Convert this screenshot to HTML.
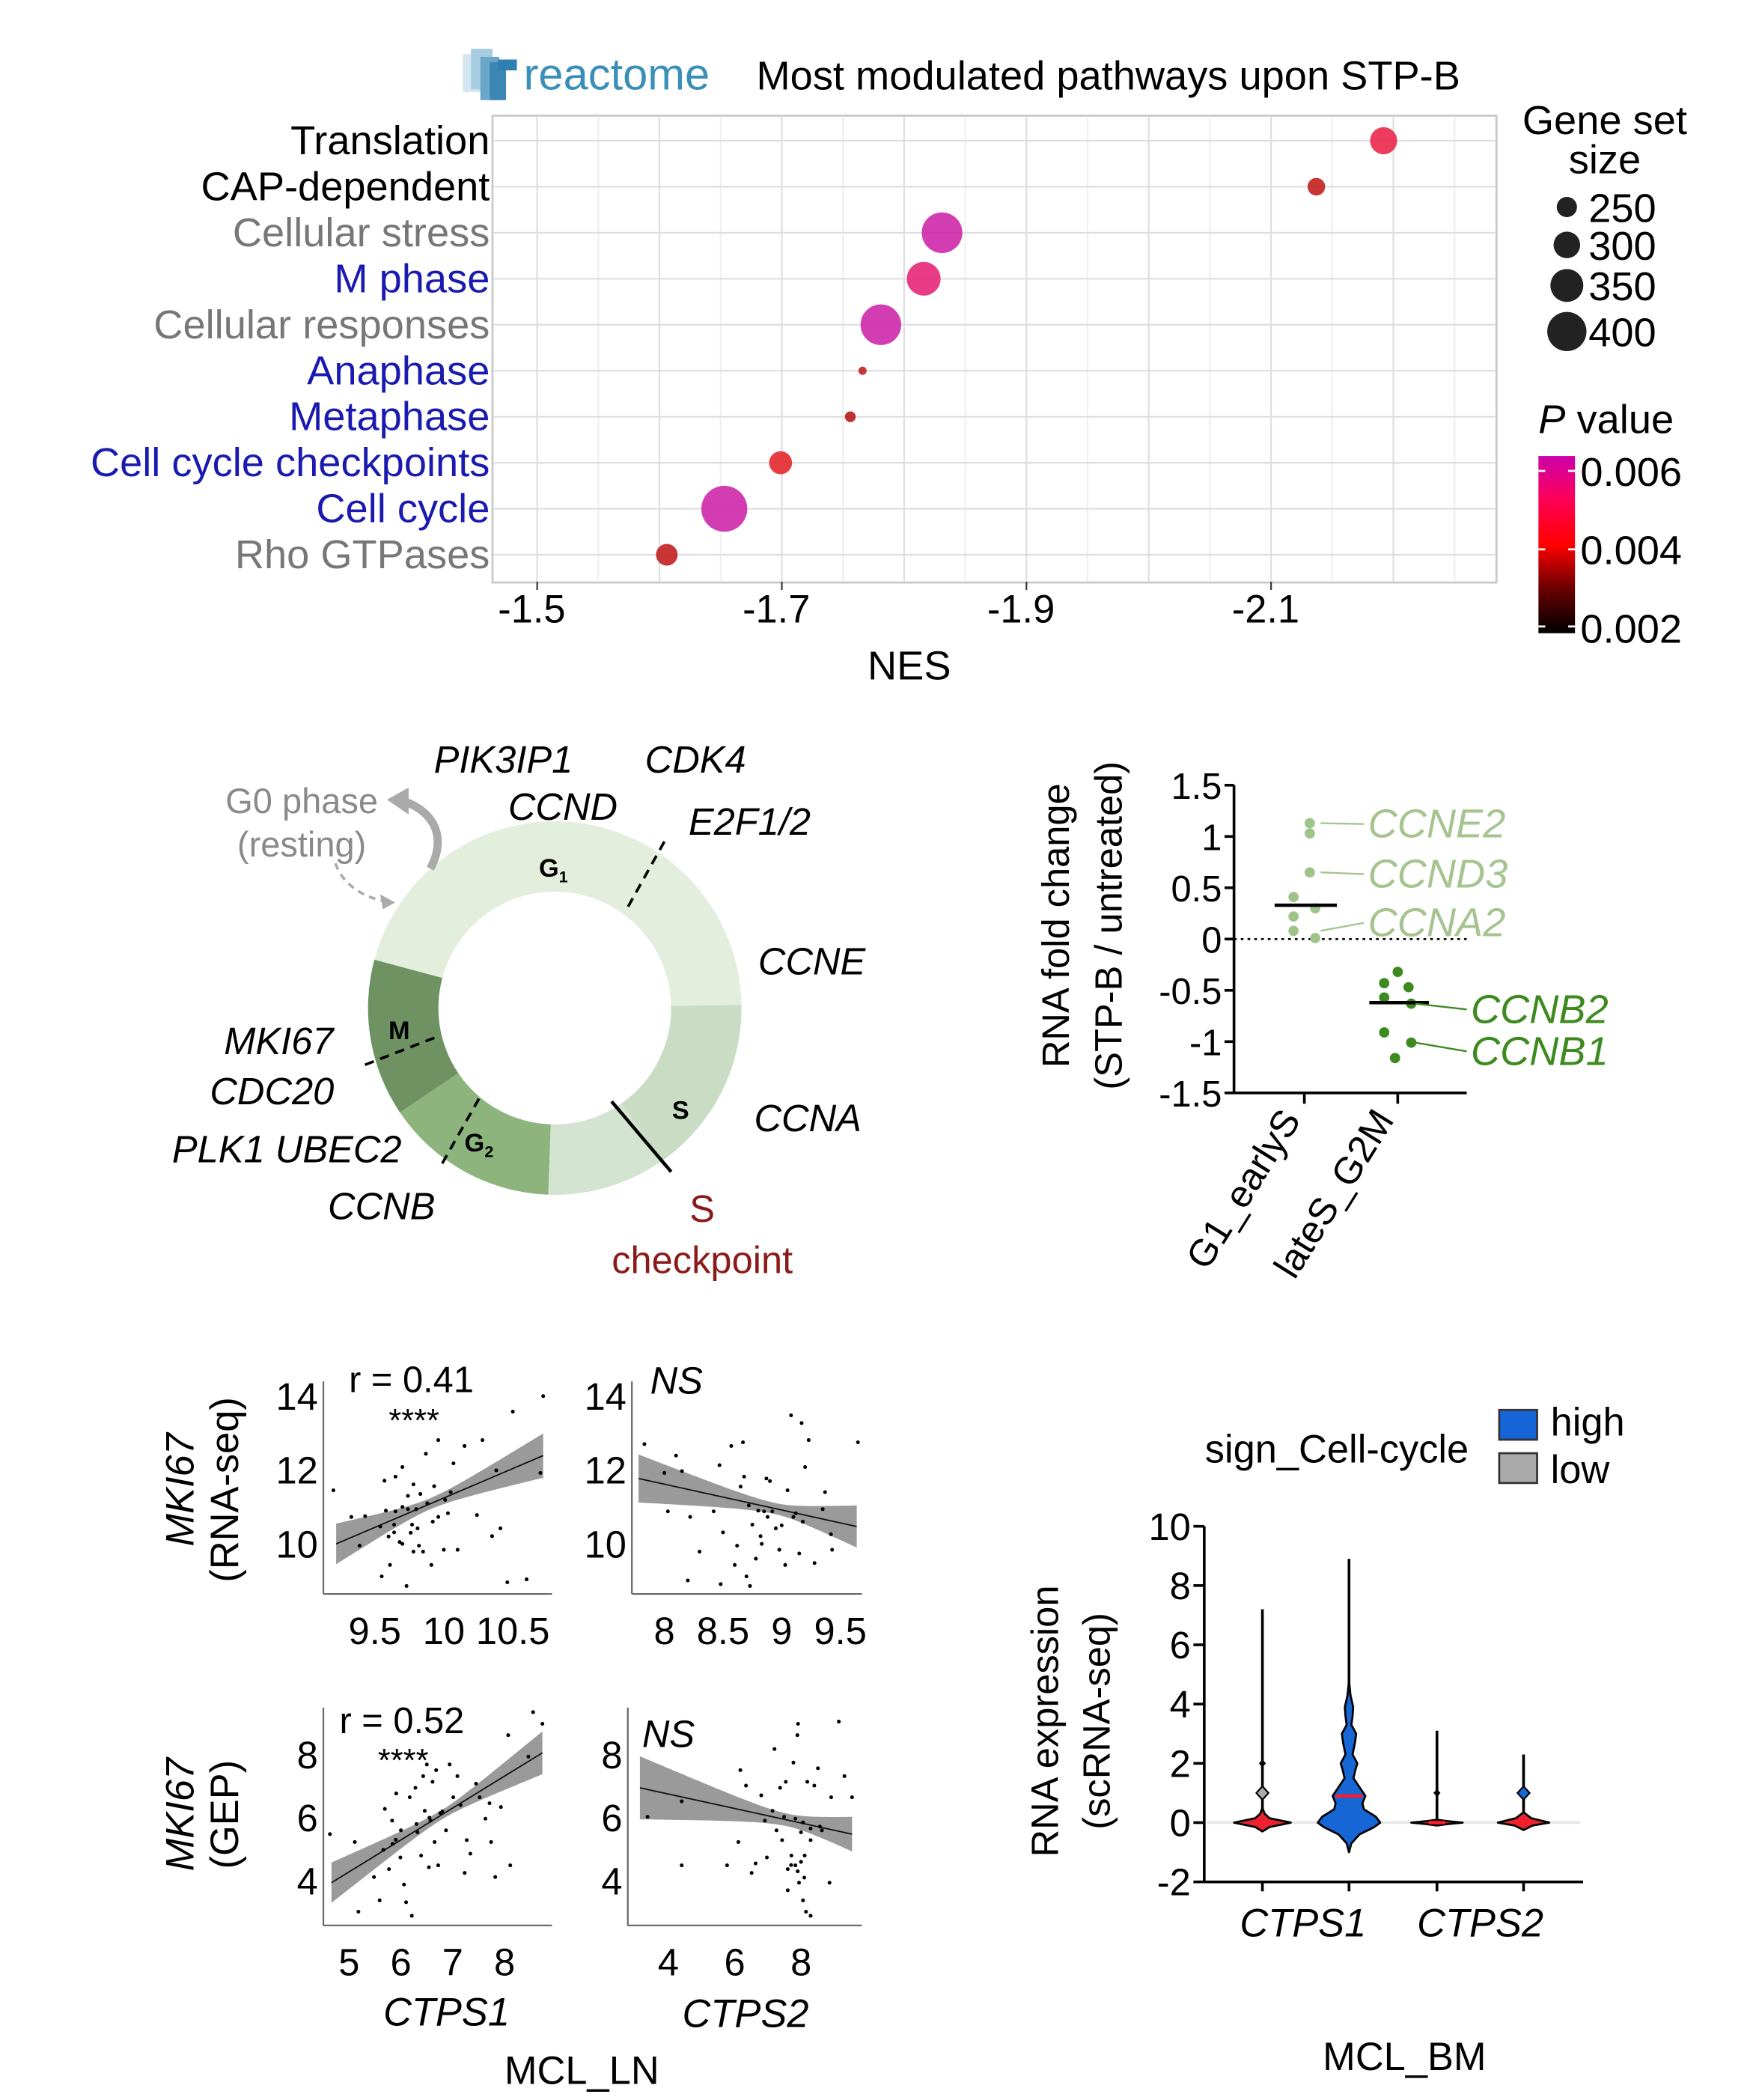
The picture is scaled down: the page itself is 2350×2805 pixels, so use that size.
<!DOCTYPE html>
<html><head><meta charset="utf-8">
<style>
html,body{margin:0;padding:0;background:#fff;}
svg{display:block;font-family:"Liberation Sans",Arial,sans-serif;}
</style></head>
<body>
<svg id="fig" xmlns="http://www.w3.org/2000/svg" width="2350" height="2805" viewBox="0 0 1300 1552" preserveAspectRatio="none">
<rect x="0" y="0" width="1300" height="1552" fill="#fff"/>
<!-- ===== Top: reactome bubble chart ===== -->
<g>
<rect x="342" y="40" width="16" height="28" fill="#d3e6ef"/>
<rect x="348" y="36" width="16" height="30" fill="#a9cde0"/>
<rect x="355" y="42" width="14" height="32" fill="#6aa6c8"/>
<rect x="362" y="46" width="12" height="28" fill="#3b86b2"/>
<rect x="368" y="44" width="14" height="8" fill="#2f7fb0"/>
<text x="387" y="66" font-size="33" fill="#3a8fb8">reactome</text>
</g>
<text x="559" y="66" font-size="30" fill="#000">Most modulated pathways upon STP-B</text>
<rect x="364" y="85.5" width="742" height="345" fill="none" stroke="#c8c8c8" stroke-width="1.5"/>
<g id="bubbleGrid"></g>
<g id="bubbleLabels"></g>
<g id="bubbles"></g>
<g id="bubbleX"></g>
<text x="672" y="502" font-size="30" text-anchor="middle">NES</text>
<text x="1186" y="99" font-size="30" text-anchor="middle">Gene set</text>
<text x="1186" y="128" font-size="30" text-anchor="middle">size</text>
<g id="sizeLegend"></g>
<text x="1187" y="320" font-size="30" text-anchor="middle"><tspan font-style="italic">P</tspan> value</text>
<defs>
<linearGradient id="pgrad" x1="0" y1="1" x2="0" y2="0">
<stop offset="0" stop-color="#000"/>
<stop offset="0.25" stop-color="#6a0000"/>
<stop offset="0.5" stop-color="#ff0000"/>
<stop offset="0.75" stop-color="#ff0055"/>
<stop offset="1" stop-color="#cc00aa"/>
</linearGradient>
</defs>
<rect x="1137" y="337" width="27" height="131" fill="url(#pgrad)"/>
<g stroke="#fff" stroke-width="1.5"><line x1="1137" y1="348" x2="1142" y2="348"/><line x1="1159" y1="348" x2="1164" y2="348"/><line x1="1137" y1="406" x2="1142" y2="406"/><line x1="1159" y1="406" x2="1164" y2="406"/><line x1="1137" y1="463" x2="1142" y2="463"/><line x1="1159" y1="463" x2="1164" y2="463"/></g>
<text x="1168" y="359" font-size="30">0.006</text>
<text x="1168" y="417" font-size="30">0.004</text>
<text x="1168" y="475" font-size="30">0.002</text>

<!-- ===== Middle left: cell cycle ring ===== -->
<g id="ring"></g>
<g font-size="28" font-style="italic" fill="#000">
<text x="372" y="571" text-anchor="middle">PIK3IP1</text>
<text x="514" y="571" text-anchor="middle">CDK4</text>
<text x="416" y="606" text-anchor="middle">CCND</text>
<text x="554" y="617" text-anchor="middle">E2F1/2</text>
<text x="600" y="720" text-anchor="middle">CCNE</text>
<text x="597" y="836" text-anchor="middle">CCNA</text>
<text x="206" y="779" text-anchor="middle">MKI67</text>
<text x="201" y="816" text-anchor="middle">CDC20</text>
<text x="212" y="859" text-anchor="middle">PLK1  UBEC2</text>
<text x="282" y="901" text-anchor="middle">CCNB</text>
</g>
<text x="519" y="903" font-size="28" fill="#8b1a1a" text-anchor="middle">S</text>
<text x="519" y="941" font-size="28" fill="#8b1a1a" text-anchor="middle">checkpoint</text>
<text x="223" y="601" font-size="26" fill="#8a8a8a" text-anchor="middle">G0 phase</text>
<text x="223" y="633" font-size="26" fill="#8a8a8a" text-anchor="middle">(resting)</text>
<path d="M318,642 C330,620 322,600 298,592" fill="none" stroke="#aaa" stroke-width="6"/>
<polygon points="286,591 302,582 302,602" fill="#aaa"/>
<path d="M248,638 C252,652 268,664 286,666" fill="none" stroke="#aaa" stroke-width="2" stroke-dasharray="5,4"/>
<polygon points="292,667 281,661 283,672" fill="#aaa"/>

<!-- ===== Middle right: dot plot ===== -->
<g id="dotplot"></g>
<text transform="translate(790,684) rotate(-90)" font-size="28" text-anchor="middle">RNA fold change</text>
<text transform="translate(829,684) rotate(-90)" font-size="28" text-anchor="middle">(STP-B / untreated)</text>

<!-- ===== Bottom left: scatter panels ===== -->
<g id="scatters"></g>
<text x="304" y="1029" font-size="27" text-anchor="middle">r = 0.41</text>
<text x="306" y="1058" font-size="24" text-anchor="middle">****</text>
<text x="500" y="1030" font-size="28" font-style="italic" text-anchor="middle">NS</text>
<text x="297" y="1281" font-size="27" text-anchor="middle">r = 0.52</text>
<text x="298" y="1309" font-size="24" text-anchor="middle">****</text>
<text x="494" y="1291" font-size="28" font-style="italic" text-anchor="middle">NS</text>
<text transform="translate(143,1101) rotate(-90)" font-size="29" font-style="italic" text-anchor="middle">MKI67</text>
<text transform="translate(176,1101) rotate(-90)" font-size="29" text-anchor="middle">(RNA-seq)</text>
<text transform="translate(143,1341) rotate(-90)" font-size="29" font-style="italic" text-anchor="middle">MKI67</text>
<text transform="translate(176,1341) rotate(-90)" font-size="29" text-anchor="middle">(GEP)</text>
<text x="330" y="1497" font-size="29" font-style="italic" text-anchor="middle">CTPS1</text>
<text x="551" y="1498" font-size="29" font-style="italic" text-anchor="middle">CTPS2</text>
<text x="430" y="1540" font-size="29" text-anchor="middle">MCL_LN</text>

<!-- ===== Bottom right: violin ===== -->
<g id="violin"></g>
<text x="988" y="1081" font-size="29" text-anchor="middle">sign_Cell-cycle</text>
<rect x="1108" y="1042" width="28" height="22" fill="#1565d8" stroke="#333" stroke-width="1.5"/>
<text x="1146" y="1061" font-size="29">high</text>
<rect x="1108" y="1074" width="28" height="22" fill="#aaaaaa" stroke="#333" stroke-width="1.5"/>
<text x="1146" y="1096" font-size="29">low</text>
<text transform="translate(782,1272) rotate(-90)" font-size="28" text-anchor="middle">RNA expression</text>
<text transform="translate(820,1272) rotate(-90)" font-size="28" text-anchor="middle">(scRNA-seq)</text>
<text x="963" y="1431" font-size="29" font-style="italic" text-anchor="middle">CTPS1</text>
<text x="1094" y="1431" font-size="29" font-style="italic" text-anchor="middle">CTPS2</text>
<text x="1038" y="1530" font-size="29" text-anchor="middle">MCL_BM</text>
</svg>

<script>
const NS = 'http://www.w3.org/2000/svg';
function mk(tag, attrs, parent) {
  const e = document.createElementNS(NS, tag);
  for (const k in attrs) e.setAttribute(k, attrs[k]);
  parent.appendChild(e);
  return e;
}
const $ = id => document.getElementById(id);

/* ---------- Bubble chart data ---------- */
const pathways = ['Translation','CAP-dependent','Cellular stress','M phase','Cellular responses','Anaphase','Metaphase','Cell cycle checkpoints','Cell cycle','Rho GTPases'];
const pathwayColors = ['#000','#000','#777','#1a1ab0','#777','#1a1ab0','#1a1ab0','#1a1ab0','#1a1ab0','#777'];
const nesValues = [-2.192,-2.137,-1.831,-1.816,-1.781,-1.766,-1.756,-1.699,-1.653,-1.606];
const geneSetSizes = [304,229,411,357,411,154,175,271,453,261];
const pValues = [0.0046,0.0037,0.0060,0.0053,0.0060,0.0037,0.0036,0.0041,0.0060,0.0037];
const nesTicks = [-1.5,-1.7,-1.9,-2.1];
const sizeLegendValues = [250,300,350,400];

const xNES = v => 397 + (-1.5 - v) * 904;
const yRow = i => 104 + i * 34.0;
const rSize = s => Math.max(2.5, 7.5 + (s - 250) * 0.0467);
function pColor(p) {
  const stops = [[0.002,[0,0,0]],[0.003,[120,10,10]],[0.004,[225,40,40]],[0.005,[240,40,100]],[0.006,[205,40,170]]];
  if (p <= stops[0][0]) return 'rgb(0,0,0)';
  for (let i = 1; i < stops.length; i++) {
    if (p <= stops[i][0]) {
      const t = (p - stops[i-1][0]) / (stops[i][0] - stops[i-1][0]);
      const c = stops[i-1][1].map((a, j) => Math.round(a + (stops[i][1][j] - a) * t));
      return `rgb(${c.join(',')})`;
    }
  }
  return 'rgb(205,40,170)';
}

const bg = $('bubbleGrid');
for (let v = -1.45; v >= -2.26; v -= 0.05) {
  const x = xNES(v);
  if (x < 365 || x > 1105) continue;
  const major = Math.abs(Math.round(v * 10) - v * 10) < 0.01;
  const gl = mk('line', {x1:x, x2:x, y1:86, y2:430, stroke: major ? '#dedede' : '#efefef', 'stroke-width': 1.2}, bg);
  
  
}
pathways.forEach((p, i) => {
  const hl = mk('line', {x1:365, x2:1105, y1:yRow(i), y2:yRow(i), stroke:'#dedede', 'stroke-width':1.2}, bg);
  
  
  const t = mk('text', {x:362, y:yRow(i) + 10, 'font-size':30, 'text-anchor':'end', fill: pathwayColors[i]}, $('bubbleLabels'));
  t.textContent = p;
  
  
  const c = mk('circle', {cx: xNES(nesValues[i]), cy: yRow(i), r: rSize(geneSetSizes[i]), fill: pColor(pValues[i]), 'fill-opacity':0.9}, $('bubbles'));
  
  
});
nesTicks.forEach(v => {
  const tk = mk('line', {x1:xNES(v), x2:xNES(v), y1:430, y2:436, stroke:'#333', 'stroke-width':1.2}, $('bubbleX'));
  
  
  const t = mk('text', {x:xNES(v) - 4, y:460, 'font-size':29, 'text-anchor':'middle'}, $('bubbleX'));
  t.textContent = v.toFixed(1);
  
  
});
const legYs = [153, 181, 211, 245];
sizeLegendValues.forEach((s, i) => {
  const c = mk('circle', {cx:1158, cy:legYs[i], r:rSize(s), fill:'#222'}, $('sizeLegend'));
  
  
  const t = mk('text', {x:1174, y:legYs[i] + 11, 'font-size':30}, $('sizeLegend'));
  t.textContent = s;
  
  
});

/* ---------- Cell cycle ring ---------- */
const ring = $('ring');
const CX = 410, CY = 745, RO = 138, RI = 86;
function arcPath(a0, a1) {
  const r = d => d * Math.PI / 180;
  const p = (R, a) => [CX + R * Math.cos(r(a)), CY + R * Math.sin(r(a))];
  const large = (a1 - a0) > 180 ? 1 : 0;
  const [x0,y0] = p(RO,a0), [x1,y1] = p(RO,a1), [x2,y2] = p(RI,a1), [x3,y3] = p(RI,a0);
  return `M${x0},${y0} A${RO},${RO} 0 ${large} 1 ${x1},${y1} L${x2},${y2} A${RI},${RI} 0 ${large} 0 ${x3},${y3} Z`;
}
const segs = [[194,360,'#e4eedc','segment-g1'],[-1,55,'#c9ddc5','segment-s'],[55,92,'#d3e5d0','segment-s-late'],[92,146,'#8eb47e','segment-g2'],[146,195,'#6f9263','segment-m']];
segs.forEach(s => {
  const e = mk('path', {d: arcPath(s[0], s[1]), fill: s[2]}, ring);
  
  
});
const dl = [[491,622,462,674],[321,767,267,788],[354,812,325,863]];
dl.forEach(d => {
  const l = mk('line', {x1:d[0], y1:d[1], x2:d[2], y2:d[3], stroke:'#000', 'stroke-width':2, 'stroke-dasharray':'7,5'}, ring);
  
  
});
const sl = mk('line', {x1:452, y1:814, x2:496, y2:866, stroke:'#000', 'stroke-width':2.5}, ring);


[['G',409,648,'1','phase-g1'],['M',295,768,'','phase-m'],['S',503,827,'','phase-s'],['G',354,851,'2','phase-g2']].forEach(l => {
  const t = mk('text', {x:l[1], y:l[2], 'font-size':19, 'font-weight':'bold', 'text-anchor':'middle'}, ring);
  t.textContent = l[0];
  if (l[3]) { const ts = mk('tspan', {'font-size':12, dy:4}, t); ts.textContent = l[3]; }
  
  
});

/* ---------- Dot plot ---------- */
const dotCategories = ['G1_earlyS','lateS_G2M'];
const g1Values = [1.13,1.03,0.65,0.41,0.30,0.22,0.08,0.01];
const lateValues = [-0.32,-0.43,-0.47,-0.57,-0.63,-0.91,-1.01,-1.16];
const g1Median = 0.33, lateMedian = -0.62;
const dotTicks = [1.5,1,0.5,0,-0.5,-1,-1.5];
const dp = $('dotplot');
const yFC = v => 694 - v * 75.8;
const catX = [964, 1033];
const ax = mk('line', {x1:912, x2:912, y1:yFC(1.5), y2:yFC(-1.5), stroke:'#000', 'stroke-width':2}, dp);


const bx = mk('line', {x1:912, x2:1084, y1:yFC(-1.5), y2:yFC(-1.5), stroke:'#000', 'stroke-width':2}, dp);


dotTicks.forEach(v => {
  const tk = mk('line', {x1:905, x2:912, y1:yFC(v), y2:yFC(v), stroke:'#000', 'stroke-width':2}, dp);
  
  
  const t = mk('text', {x:903, y:yFC(v) + 10, 'font-size':27, 'text-anchor':'end'}, dp);
  t.textContent = String(v);
  
  
});
const zl = mk('line', {x1:912, x2:1084, y1:yFC(0), y2:yFC(0), stroke:'#000', 'stroke-width':1.5, 'stroke-dasharray':'2,3'}, dp);


dotCategories.forEach((c, i) => {
  const tk = mk('line', {x1:catX[i], x2:catX[i], y1:yFC(-1.5), y2:yFC(-1.5) + 8, stroke:'#000', 'stroke-width':2}, dp);
  
  
  const t = mk('text', {transform:`translate(${catX[i] - 2},${yFC(-1.5) + 20}) rotate(-58)`, 'font-size':28, 'text-anchor':'end'}, dp);
  t.textContent = c;
  
  
});
const g1Off = [4,4,4,-8,8,-8,-8,8], lateOff = [0,-10,8,-10,10,-10,10,-2];
g1Values.forEach((v, i) => {
  const c = mk('circle', {cx:catX[0] + g1Off[i], cy:yFC(v), r:3.8, fill:'#9fc48a'}, dp);
  
  
});
lateValues.forEach((v, i) => {
  const c = mk('circle', {cx:catX[1] + lateOff[i], cy:yFC(v), r:3.8, fill:'#3d8a1e'}, dp);
  
  
});
const m1 = mk('line', {x1:942, x2:988, y1:yFC(g1Median), y2:yFC(g1Median), stroke:'#000', 'stroke-width':2.5}, dp);


const m2 = mk('line', {x1:1012, x2:1056, y1:yFC(lateMedian), y2:yFC(lateMedian), stroke:'#000', 'stroke-width':2.5}, dp);


const geneLabels = [['CCNE2',1.13,609,'#a6c48f',976,1008],['CCND3',0.65,646,'#a6c48f',976,1008],['CCNA2',0.08,682,'#a6c48f',976,1008],['CCNB2',-0.63,746,'#3d8a1e',1046,1084],['CCNB1',-1.01,777,'#3d8a1e',1046,1084]];
geneLabels.forEach(g => {
  const l = mk('line', {x1:g[4], y1:yFC(g[1]), x2:g[5], y2:g[2], stroke:g[3], 'stroke-width':1.3}, dp);
  
  
  const t = mk('text', {x:g[5] + 3, y:g[2] + 10, 'font-size':30, 'font-style':'italic', fill:g[3]}, dp);
  t.textContent = g[0];
  
  
});

/* ---------- Scatter panels ---------- */
const p1X = [9.20,9.33,9.39,9.43,9.54,9.55,9.57,9.61,9.64,9.65,9.68,9.70,9.70,9.73,9.74,9.78,9.78,9.81,9.83,9.85,9.87,9.91,9.93,9.96,9.96,10.0,10.07,10.1,10.15,10.24,10.28,10.35,10.38,10.41,10.46,10.5,10.6,10.7,10.72,9.65,9.74,9.80,10.01,10.03,9.64,9.77,9.60,9.70,9.88,9.92,10.05,9.58,9.76,9.82];
const p1Y = [11.45,10.73,9.95,10.75,10.47,9.12,11.71,9.43,10.52,11.82,10.05,12.08,10.0,8.86,11.30,11.61,9.79,10.42,11.35,9.79,12.44,9.43,11.56,12.81,10.73,9.84,12.18,9.84,12.65,10.78,12.81,10.21,11.99,10.42,8.96,13.58,9.04,11.92,14.0,10.88,10.94,10.94,11.19,10.83,10.31,10.52,10.2,11.0,11.1,10.6,11.4,10.9,10.3,9.95];
const p2X = [7.83,8.0,8.03,8.10,8.15,8.2,8.22,8.3,8.42,8.47,8.48,8.5,8.57,8.6,8.62,8.67,8.68,8.7,8.73,8.75,8.82,8.83,8.85,8.87,8.88,8.95,8.98,9.03,9.05,9.1,9.08,9.15,9.17,9.2,9.23,9.28,9.37,9.42,9.43,9.65,8.72,8.92,9.12,9.35,8.80,8.90,9.0,9.18,8.65,8.78];
const p2Y = [12.70,11.92,10.88,12.39,11.97,9.01,10.73,9.79,10.88,12.13,8.91,10.31,12.65,9.43,9.95,12.75,11.82,9.12,8.86,10.52,10.21,10.0,10.88,11.77,10.73,10.42,9.84,9.43,11.45,10.73,13.48,9.74,13.27,12.08,12.81,9.48,11.4,10.26,9.84,12.75,11.04,10.88,10.83,10.94,10.9,11.7,10.5,10.6,11.55,9.6];
const p3X = [4.63,5.11,5.18,5.48,5.59,5.66,5.69,5.77,5.83,5.84,5.91,5.99,6.06,6.10,6.17,6.21,6.28,6.32,6.39,6.43,6.46,6.50,6.54,6.57,6.61,6.65,6.68,6.72,6.76,6.87,6.94,7.01,7.09,7.23,7.27,7.34,7.45,7.52,7.63,7.71,7.74,7.82,7.93,8.07,8.11,8.46,8.55,8.73,6.0,6.3,6.55,6.8,7.15,5.9];
const p3Y = [5.48,5.23,3.02,4.12,3.38,4.98,6.28,4.37,5.91,5.17,6.77,4.74,3.88,3.32,6.65,2.89,6.95,5.54,4.80,7.32,6.22,7.69,4.43,5.91,7.14,5.23,7.51,4.49,6.15,5.60,7.69,6.65,7.32,4.25,5.29,4.86,7.08,6.65,5.97,6.46,5.23,4.12,6.34,8.62,4.49,7.94,9.35,8.98,5.6,5.8,6.0,6.2,6.4,5.3];
const p4X = [3.37,4.4,4.4,5.77,6.11,6.17,6.34,6.51,6.63,6.8,6.91,6.97,7.2,7.26,7.37,7.43,7.54,7.6,7.71,7.77,7.83,7.89,7.91,7.94,8.0,8.06,8.11,8.15,8.19,8.29,8.4,8.51,8.57,8.86,8.91,9.14,9.31,9.54,8.29,7.14,7.49,7.83,8.06,8.29,8.63,7.7,7.9,8.1,7.6,8.0];
const p4Y = [6.03,6.52,4.49,4.49,5.23,7.51,7.02,4.25,4.55,6.71,5.91,4.74,8.18,5.60,6.95,5.29,7.14,4.37,4.80,7.75,4.49,8.62,8.98,3.94,5.54,3.38,4.80,3.02,7.14,5.29,7.02,7.57,5.72,3.94,6.65,9.05,7.32,6.65,2.89,6.22,6.03,5.97,5.85,5.66,5.60,4.5,4.3,4.1,3.7,4.6];
const fitX = [[9.22,10.72],[7.78,9.64],[4.66,8.73],[3.14,9.54]];
const fitY = [[10.0,12.39],[11.77,10.47],[3.94,8.06],[6.95,5.48]];
const bandLeft = [0.55,0.65,0.64,1.0];
const bandMid = [0.15,0.15,0.15,0.2];
const bandMidX = [9.9,8.95,6.8,7.6];
const bandRight = [0.6,0.57,0.68,0.55];
const xTicksP = [[9.5,10,10.5],[8,8.5,9,9.5],[5,6,7,8],[4,6,8]];
const yTicksP = [[14,12,10],[14,12,10],[8,6,4],[8,6,4]];

const panels = [
  {l:239, r:408, t:1021, b:1178, x0:9.5, px0:277, xs:102, y0:10, py0:1141, ys:27.3, lab:1215},
  {l:467, r:637, t:1021, b:1178, x0:8, px0:491, xs:86.7, y0:10, py0:1141, ys:27.3, lab:1215},
  {l:239, r:408, t:1262, b:1423, x0:5, px0:258, xs:38.3, y0:4, py0:1390, ys:23.3, lab:1460},
  {l:464, r:637, t:1262, b:1423, x0:4, px0:494, xs:24.5, y0:4, py0:1390, ys:23.3, lab:1460}
];
const allX = [p1X, p2X, p3X, p4X], allY = [p1Y, p2Y, p3Y, p4Y];
const sc = $('scatters');
panels.forEach((P, k) => {
  const X = v => P.px0 + (v - P.x0) * P.xs;
  const Y = v => P.py0 - (v - P.y0) * P.ys;
  const g = mk('g', {}, sc);
  
  
  const xl = fitX[k][0], xr = fitX[k][1];
  const lineY = x => fitY[k][0] + (fitY[k][1] - fitY[k][0]) * (x - xl) / (xr - xl);
  const half = x => {
    const m = bandMidX[k];
    const e = x < m ? bandLeft[k] : bandRight[k];
    const d = x < m ? (m - xl) : (xr - m);
    const u = (x - m) / d;
    return Math.sqrt(bandMid[k] ** 2 + (e ** 2 - bandMid[k] ** 2) * u * u);
  };
  const up = [], dn = [];
  for (let i = 0; i <= 40; i++) {
    const x = xl + (xr - xl) * i / 40;
    up.push(`${X(x)},${Y(lineY(x) + half(x))}`);
    dn.unshift(`${X(x)},${Y(lineY(x) - half(x))}`);
  }
  const band = mk('polygon', {points: up.concat(dn).join(' '), fill:'#9a9a9a'}, g);
  
  
  const fl = mk('line', {x1:X(xl), y1:Y(fitY[k][0]), x2:X(xr), y2:Y(fitY[k][1]), stroke:'#111', 'stroke-width':1}, g);
  
  
  allX[k].forEach((x, i) => {
    const c = mk('circle', {cx:X(x), cy:Y(allY[k][i]), r:1.4, fill:'#000'}, g);
    
    
  });
  const ya = mk('line', {x1:P.l, x2:P.l, y1:P.t, y2:P.b, stroke:'#666', 'stroke-width':1.2}, g);
  
  
  const xa = mk('line', {x1:P.l, x2:P.r, y1:P.b, y2:P.b, stroke:'#666', 'stroke-width':1.2}, g);
  
  
  xTicksP[k].forEach(v => {
    const t = mk('text', {x:X(v), y:P.lab, 'font-size':28, 'text-anchor':'middle'}, g);
    t.textContent = String(v);
    
    
  });
  yTicksP[k].forEach(v => {
    const t = mk('text', {x:P.l - 4, y:Y(v) + 10, 'font-size':28, 'text-anchor':'end'}, g);
    t.textContent = String(v);
    
    
  });
});

/* ---------- Violin plot ---------- */
const violinGroups = ['CTPS1 low','CTPS1 high','CTPS2 low','CTPS2 high'];
const violinMax = [7.2, 8.9, 3.1, 2.3];
const violinMin = [-0.3, -1.0, -0.1, -0.25];
const violinMedian = [0, 0.9, 0, 0];
const densV = [
  [-0.3,-0.15,0,0.15,0.3,0.5],
  [-1.0,-0.7,-0.4,-0.15,0,0.2,0.45,0.65,0.9,1.2,1.5,1.8,2.0,2.3,2.7,3.0,3.3,3.6,3.9,4.3,4.8],
  [-0.1,-0.05,0,0.05,0.1],
  [-0.25,-0.1,0,0.15,0.35]
];
const densW = [
  [0,0.25,1,0.25,0.08,0],
  [0,0.08,0.35,0.85,1.05,0.9,0.5,0.45,0.55,0.35,0.15,0.22,0.28,0.12,0.2,0.24,0.08,0.12,0.14,0.05,0],
  [0,0.4,1,0.4,0],
  [0,0.35,1,0.3,0]
];
const violinFill = ['#e32630','#1766d6','#e32630','#e32630'];
const outlierV = [[1.0,2.0],[],[1.0],[1.0]];
const outlierSize = [[5,2],[],[2],[5]];
const outlierFill = ['#aaaaaa','#1766d6','#000','#1766d6'];
const violinTicks = [10,8,6,4,2,0,-2];
const vg = $('violin');
const yV = v => 1347 - v * 21.9;
const vx = [933, 997, 1062, 1126];
const vHalf = [21, 22, 19, 19];
const zline = mk('line', {x1:892, x2:1168, y1:yV(0), y2:yV(0), stroke:'#e6e6e6', 'stroke-width':2}, vg);


violinGroups.forEach((g, k) => {
  const w = mk('line', {x1:vx[k], x2:vx[k], y1:yV(violinMax[k]), y2:yV(violinMin[k]), stroke:'#000', 'stroke-width':2}, vg);
  
  
  const L = [], R = [];
  densV[k].forEach((v, i) => {
    R.push(`${vx[k] + densW[k][i] * vHalf[k]},${yV(v)}`);
    L.unshift(`${vx[k] - densW[k][i] * vHalf[k]},${yV(v)}`);
  });
  const body = mk('polygon', {points: R.concat(L).join(' '), fill: violinFill[k], stroke:'#000', 'stroke-width':1.5, 'stroke-linejoin':'round'}, vg);
  
  
  outlierV[k].forEach((v, j) => {
    const s = outlierSize[k][j];
    const d = mk('polygon', {points:`${vx[k]},${yV(v)-s} ${vx[k]+s*0.9},${yV(v)} ${vx[k]},${yV(v)+s} ${vx[k]-s*0.9},${yV(v)}`, fill: s > 3 ? outlierFill[k] : '#000', stroke:'#000', 'stroke-width':1.2}, vg);
    
    
  });
  const md = mk('line', {x1:vx[k] - (k === 1 ? 10 : 6), x2:vx[k] + (k === 1 ? 10 : 6), y1:yV(violinMedian[k]), y2:yV(violinMedian[k]), stroke:'#ff1a2a', 'stroke-width':2.5}, vg);
  
  
});
const vya = mk('line', {x1:890, x2:890, y1:yV(10), y2:yV(-2), stroke:'#000', 'stroke-width':2}, vg);


const vxa = mk('line', {x1:890, x2:1170, y1:yV(-2), y2:yV(-2), stroke:'#000', 'stroke-width':2}, vg);


violinTicks.forEach(v => {
  const tk = mk('line', {x1:882, x2:890, y1:yV(v), y2:yV(v), stroke:'#000', 'stroke-width':2}, vg);
  
  
  const t = mk('text', {x:880, y:yV(v) + 10, 'font-size':28, 'text-anchor':'end'}, vg);
  t.textContent = String(v);
  
  
});
vx.forEach(x => {
  const tk = mk('line', {x1:x, x2:x, y1:yV(-2), y2:yV(-2) + 7, stroke:'#000', 'stroke-width':2}, vg);
  
  
});
</script>
</body></html>
